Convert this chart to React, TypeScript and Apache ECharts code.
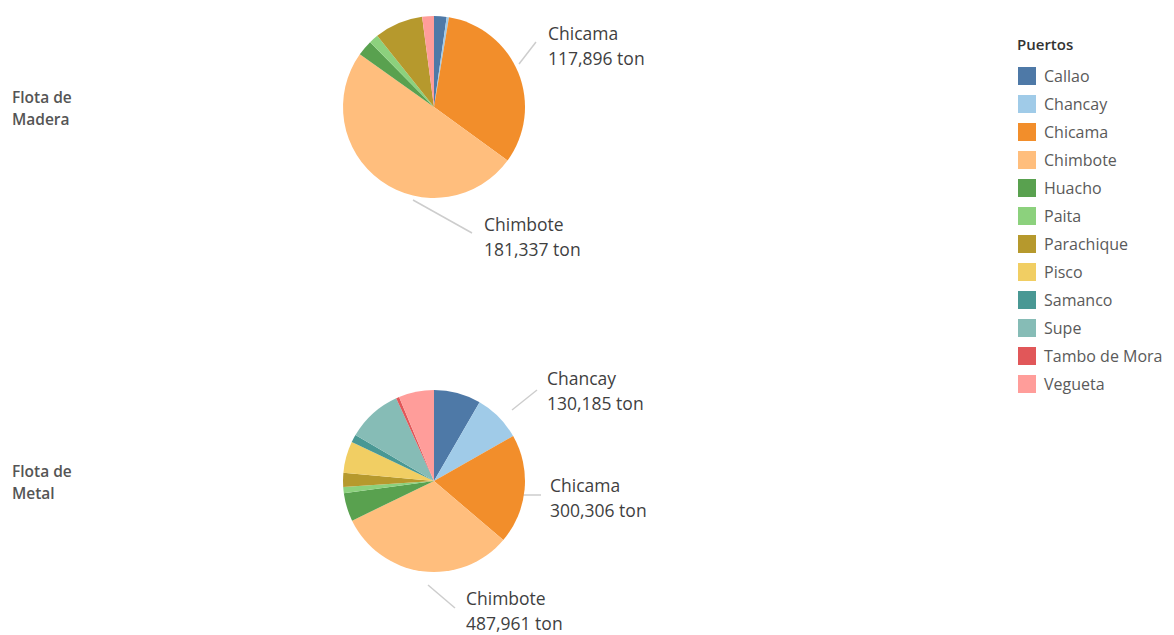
import React, { useEffect, useRef } from 'react';
import * as echarts from 'echarts';

const ports = ['Callao', 'Chancay', 'Chicama', 'Chimbote', 'Huacho', 'Paita', 'Parachique', 'Pisco', 'Samanco', 'Supe', 'Tambo de Mora', 'Vegueta'];
const portColors = ['#4e79a7', '#a0cbe8', '#f28e2b', '#ffbe7d', '#59a14f', '#8cd17d', '#b6992d', '#f1ce63', '#499894', '#86bcb6', '#e15759', '#ff9d9a'];
const maderaTons = [8100, 1500, 117896, 181337, 10100, 6100, 31400, 0, 0, 0, 0, 7600];
const metalTons = [129000, 130185, 300306, 487961, 77400, 17200, 38700, 86000, 21500, 150600, 8600, 96800];
const fleetNames = ['Flota de\nMadera', 'Flota de\nMetal'];
const legendTitle = 'Puertos';
const maderaLabeled = ['Chicama', 'Chimbote'];
const metalLabeled = ['Chancay', 'Chicama', 'Chimbote'];

// label placement (styling only)
const labelPlacement: Record<string, { x: number; y: number; line: number[][] }>[] = [
  {
    Chicama: { x: 548, y: 45, line: [[519, 64], [536, 42]] },
    Chimbote: { x: 484, y: 236, line: [[413, 200], [472, 233]] },
  },
  {
    Chancay: { x: 547, y: 390, line: [[512, 410], [537, 390]] },
    Chicama: { x: 550, y: 497, line: [[522, 495], [541, 495]] },
    Chimbote: { x: 466, y: 610, line: [[428, 585], [455, 608]] },
  },
];

const FONT = "'Open Sans', 'Noto Sans', sans-serif";

function makeData(values: number[], labeled: string[]) {
  return ports.map((name, i) => ({
    name,
    value: values[i],
    itemStyle: { color: portColors[i] },
    label: { show: labeled.includes(name) },
    labelLine: { show: labeled.includes(name) },
  }));
}

function makeSeries(si: number, values: number[], labeled: string[], center: number[]) {
  return {
    type: 'pie',
    center,
    radius: 91,
    startAngle: 90,
    clockwise: true,
    avoidLabelOverlap: false,
    silent: true,
    itemStyle: { borderWidth: 0 },
    emphasis: { disabled: true },
    label: {
      show: false,
      position: 'outside',
      formatter: (p: any) => `${p.name}\n${Number(p.value).toLocaleString('en-US')} ton`,
      fontSize: 17.5,
      lineHeight: 25,
      color: '#3f3f3f',
      fontFamily: FONT,
    },
    labelLine: {
      show: false,
      lineStyle: { color: '#cdcdcd', width: 1.5 },
    },
    labelLayout: (params: any) => {
      const name = ports[params.dataIndex];
      const p = labelPlacement[si][name];
      if (!p) return {};
      return { x: p.x, y: p.y, align: 'left', verticalAlign: 'middle', labelLinePoints: p.line };
    },
    data: makeData(values, labeled),
  };
}

export default function App() {
  const ref = useRef<HTMLDivElement>(null);
  useEffect(() => {
    if (!ref.current) return;
    const chart = echarts.init(ref.current, null, { renderer: 'svg' });
    chart.setOption({
      animation: false,
      backgroundColor: '#ffffff',
      color: portColors,
      title: [
        {
          text: legendTitle,
          left: 1017,
          top: 35,
          padding: 0,
          textStyle: { fontSize: 15, fontWeight: 600, color: '#333', fontFamily: FONT, lineHeight: 18 },
        },
        {
          text: fleetNames[0],
          left: 12,
          top: 86,
          padding: 0,
          textStyle: { fontSize: 15.5, fontWeight: 600, color: '#555', fontFamily: FONT, lineHeight: 22 },
        },
        {
          text: fleetNames[1],
          left: 12,
          top: 460,
          padding: 0,
          textStyle: { fontSize: 15.5, fontWeight: 600, color: '#555', fontFamily: FONT, lineHeight: 22 },
        },
      ],
      legend: {
        orient: 'vertical',
        left: 1018,
        top: 67,
        padding: 0,
        itemWidth: 18,
        itemHeight: 18,
        itemGap: 10,
        icon: 'rect',
        selectedMode: false,
        data: ports,
        textStyle: { fontSize: 16, color: '#5a5a5a', fontFamily: FONT, padding: [0, 0, 0, 3] },
      },
      series: [
        makeSeries(0, maderaTons, maderaLabeled, [434, 107]),
        makeSeries(1, metalTons, metalLabeled, [434, 481]),
      ],
    });
    return () => chart.dispose();
  }, []);
  return (
    <div
      ref={ref}
      style={{ position: 'fixed', left: 0, top: 0, width: 1174, height: 635, background: '#fff' }}
    />
  );
}
